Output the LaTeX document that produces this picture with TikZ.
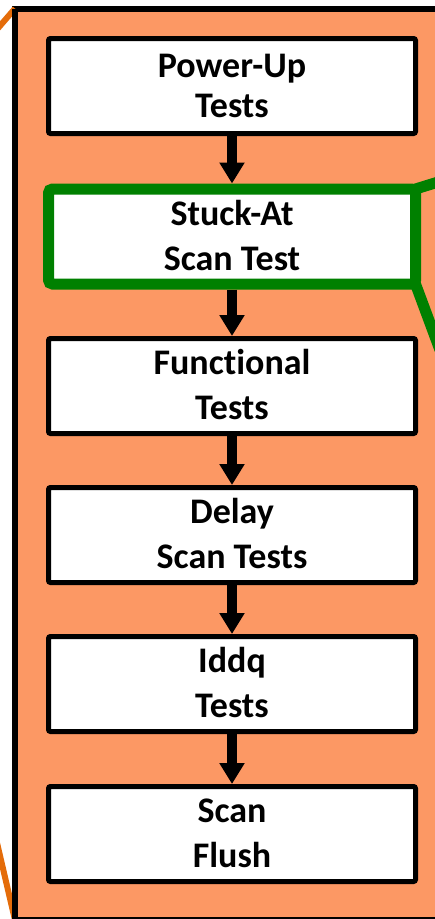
\documentclass[tikz,border=0pt]{standalone}
\usepackage{fontspec}
\setmainfont{Carlito}[Ligatures=NoCommon]
\usetikzlibrary{arrows.meta}
\definecolor{fillorange}{RGB}{252,152,100}
\definecolor{lineorange}{RGB}{228,108,10}
\definecolor{boxgreen}{RGB}{0,128,0}
\newcommand\tstr{\rule[-8pt]{0pt}{38pt}}
\begin{document}
\begin{tikzpicture}[x=1pt,y=-1pt,
  stepbox/.style={draw=black, line width=5pt, fill=white, rounded corners=2pt,
    minimum width=367pt, minimum height=95pt, inner sep=0pt, align=center,
    font=\fontsize{36pt}{45pt}\selectfont\bfseries},
  tightbox/.style={stepbox, font=\fontsize{36pt}{40pt}\selectfont\bfseries},
  keybox/.style={stepbox, draw=boxgreen, line width=11pt, rounded corners=4pt},
  flow/.style={draw=black, line width=10pt, -{Triangle[width=24pt,length=21pt]}},
  frameline/.style={draw=lineorange, line width=6pt},
  keyline/.style={draw=boxgreen, line width=11pt}]
\useasboundingbox (0,0) rectangle (435,919);
\clip (0,0) rectangle (435,919);
% outer frame
\coordinate (tl) at (-20,49);
\coordinate (bl) at (-6,830);
\node[draw=black, line width=6pt, fill=fillorange, minimum width=455pt,
  minimum height=911.5pt, inner sep=0pt, outer sep=0pt] (frame) at (242.5,464.25) {};
\draw[frameline] (tl) -- (frame.north west);
\draw[frameline] (bl) -- (frame.south west);
\draw[draw=black, line width=6pt] (frame.north west) -- (frame.south west);
% boxes
\node[tightbox] (pwr) at (232,86) {\tstr Power-Up\\Tests\tstr};
\node[keybox] (stk) at (232,236.5) {\tstr Stuck-At\\Scan Test\tstr};
\node[stepbox] (fun) at (232,386) {\tstr Functional\\Tests\tstr};
\node[stepbox] (dly) at (232,535) {\tstr Delay\\Scan Tests\tstr};
\node[stepbox] (idq) at (232,684) {\tstr Iddq\\Tests\tstr};
\node[stepbox] (scf) at (232,834) {\tstr Scan\\Flush\tstr};
% green connectors
\coordinate (gr1) at (460,175.3);
\coordinate (gr2) at (440,350);
\draw[keyline] ([shift={(-5.5,5.5)}]stk.north east) -- (gr1);
\draw[keyline] ([shift={(-5.5,-5.5)}]stk.south east) -- (gr2);
% arrows
\draw[flow] (pwr.south) -- (stk.north);
\draw[flow] (stk.south) -- (fun.north);
\draw[flow] (fun.south) -- (dly.north);
\draw[flow] (dly.south) -- (idq.north);
\draw[flow] (idq.south) -- (scf.north);
\end{tikzpicture}
\end{document}
